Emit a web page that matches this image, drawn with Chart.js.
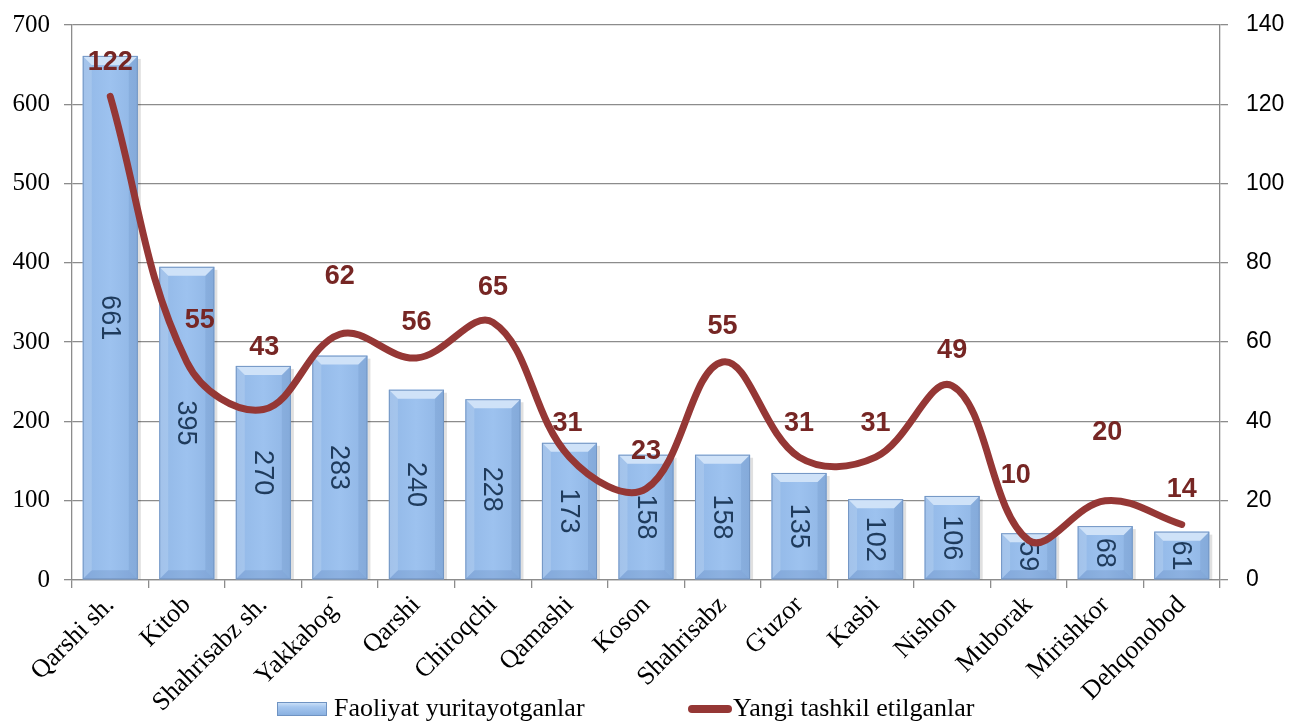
<!DOCTYPE html>
<html>
<head>
<meta charset="utf-8">
<script src="https://cdn.jsdelivr.net/npm/chart.js@4/dist/chart.umd.min.js"></script>
<style>
  html, body { margin: 0; padding: 0; background: #fff; }
  #wrap { width: 1298px; height: 723px; }
</style>
</head>
<body>
<div id="wrap"><canvas id="mychart" width="1298" height="723"></canvas></div>
<script>
// data
const districts = ["Qarshi sh.", "Kitob", "Shahrisabz sh.", "Yakkabog`", "Qarshi", "Chiroqchi", "Qamashi",
  "Koson", "Shahrisabz", "G'uzor", "Kasbi", "Nishon", "Muborak", "Mirishkor", "Dehqonobod"];
const activeCount = [661, 395, 270, 283, 240, 228, 173, 158, 158, 135, 102, 106, 59, 68, 61];
const newCount = [122, 55, 43, 62, 56, 65, 31, 23, 55, 31, 31, 49, 10, 20, 14];
const activeLabel = "Faoliyat yuritayotganlar";
const newLabel = "Yangi tashkil etilganlar";

// label nudges for the line values (px), as placed in the original
const lineLabelLift = [34, 41, 62, 58, 35, 35, 34, 37, 35, 34, 34, 35, 65, 68, 35];
const lineLabelShift = [0, 13, 1, 0, 0, 0, -2, 0, 0, 0, 0, 0, -13, 2, 0];

const serif = '"Liberation Serif", "Times New Roman", serif';
const sans = '"Liberation Sans", Arial, sans-serif';
const lineColor = "rgb(149, 55, 53)";
const lineTextColor = "rgb(118, 38, 36)";

// bevelled bars + value labels inside bars
const barLook = {
  id: "barLook",
  afterDatasetDraw(chart, args) {
    if (args.index !== 0) return;
    const ctx = chart.ctx;
    const meta = args.meta;
    meta.data.forEach((bar, i) => {
      const l = bar.x - bar.width / 2, r = bar.x + bar.width / 2;
      const t = bar.y, b = bar.base;
      const h = b - t;
      const bv = Math.min(9, h / 2);
      ctx.save();
      // shadow
      ctx.fillStyle = "rgba(0,0,0,0.12)";
      ctx.fillRect(r, t + 3, 3, h - 3);
      // face
      const g = ctx.createLinearGradient(l, 0, r, 0);
      g.addColorStop(0, "#92b8e7");
      g.addColorStop(0.5, "#9dc2ef");
      g.addColorStop(1, "#8fb5e4");
      ctx.fillStyle = g;
      ctx.fillRect(l, t, r - l, h);
      // top bevel
      ctx.beginPath();
      ctx.moveTo(l, t); ctx.lineTo(r, t); ctx.lineTo(r - bv, t + bv); ctx.lineTo(l + bv, t + bv); ctx.closePath();
      ctx.fillStyle = "#cfe2f8";
      ctx.fill();
      // left bevel
      ctx.beginPath();
      ctx.moveTo(l, t); ctx.lineTo(l + bv, t + bv); ctx.lineTo(l + bv, b - bv); ctx.lineTo(l, b); ctx.closePath();
      ctx.fillStyle = "rgba(255,255,255,0.15)";
      ctx.fill();
      // right bevel
      ctx.beginPath();
      ctx.moveTo(r, t); ctx.lineTo(r - bv, t + bv); ctx.lineTo(r - bv, b - bv); ctx.lineTo(r, b); ctx.closePath();
      ctx.fillStyle = "rgba(40,80,140,0.10)";
      ctx.fill();
      // bottom bevel
      ctx.beginPath();
      ctx.moveTo(l, b); ctx.lineTo(l + bv, b - bv); ctx.lineTo(r - bv, b - bv); ctx.lineTo(r, b); ctx.closePath();
      ctx.fillStyle = "rgba(40,80,140,0.14)";
      ctx.fill();
      // outline
      ctx.strokeStyle = "#7396c4";
      ctx.lineWidth = 1;
      ctx.strokeRect(l + 0.5, t + 0.5, r - l - 1, h - 1);
      // value
      ctx.translate(bar.x, (t + b) / 2);
      ctx.rotate(Math.PI / 2);
      ctx.fillStyle = "#1f3b5c";
      ctx.font = "27px " + sans;
      ctx.textAlign = "center";
      ctx.textBaseline = "middle";
      ctx.fillText(String(activeCount[i]), 0, 1);
      ctx.restore();
    });
  }
};

// line value labels + legend drawn under the axis labels
const extras = {
  id: "extras",
  afterDatasetsDraw(chart) {
    const ctx = chart.ctx;
    const meta = chart.getDatasetMeta(1);
    ctx.save();
    ctx.fillStyle = lineTextColor;
    ctx.font = "bold 27px " + sans;
    ctx.textAlign = "center";
    ctx.textBaseline = "middle";
    meta.data.forEach((pt, i) => {
      ctx.fillText(String(newCount[i]), pt.x + lineLabelShift[i], pt.y - lineLabelLift[i]);
    });
    ctx.restore();
  },
  afterDraw(chart) {
    const ctx = chart.ctx;
    const y = 709;
    ctx.save();
    // bar swatch
    const g = ctx.createLinearGradient(0, y - 7, 0, y + 7);
    g.addColorStop(0, "#d3e5f9");
    g.addColorStop(0.35, "#a6c7ef");
    g.addColorStop(1, "#86aedf");
    ctx.fillStyle = g;
    ctx.fillRect(277, y - 7, 50, 14);
    ctx.strokeStyle = "#6f93c2";
    ctx.lineWidth = 1;
    ctx.strokeRect(277.5, y - 6.5, 49, 13);
    ctx.fillStyle = "#000";
    ctx.font = "26px " + serif;
    ctx.textBaseline = "middle";
    ctx.textAlign = "left";
    ctx.fillText(activeLabel, 334, y);
    // line swatch
    ctx.strokeStyle = lineColor;
    ctx.lineWidth = 8;
    ctx.lineCap = "round";
    ctx.beginPath();
    ctx.moveTo(692, y);
    ctx.lineTo(728, y);
    ctx.stroke();
    ctx.fillText(newLabel, 733, y);
    ctx.restore();
  }
};

function noPad(scale) {
  scale.paddingTop = 0;
  scale.paddingBottom = 0;
  scale.paddingLeft = 0;
  scale.paddingRight = 0;
}

const ctx = document.getElementById("mychart");

new Chart(ctx, {
  type: "bar",
  data: {
    labels: districts,
    datasets: [
      {
        type: "bar",
        label: activeLabel,
        data: activeCount,
        yAxisID: "y",
        backgroundColor: "rgba(0,0,0,0)",
        borderWidth: 0,
        barPercentage: 0.72,
        categoryPercentage: 1,
        order: 1,
      },
      {
        type: "line",
        label: newLabel,
        data: newCount,
        yAxisID: "y2",
        borderColor: lineColor,
        borderWidth: 7,
        borderCapStyle: "round",
        tension: 0.38,
        pointRadius: 0,
        fill: false,
        order: 0,
      },
    ],
  },
  options: {
    responsive: false,
    animation: false,
    layout: { padding: { top: 25, left: 0, right: 0, bottom: 0 } },
    plugins: {
      legend: { display: false },
      tooltip: { enabled: false },
    },
    scales: {
      x: {
        offset: true,
        grid: { offset: true, drawOnChartArea: false, color: "#8c8c8c", tickLength: 8, lineWidth: 1.3 },
        border: { color: "#8c8c8c", width: 1.3 },
        ticks: {
          minRotation: 45,
          maxRotation: 45,
          autoSkip: false,
          color: "#000",
          padding: 2,
          font: { family: serif, size: 26 },
        },
        afterFit(scale) { scale.height = 143; noPad(scale); },
      },
      y: {
        position: "left",
        min: 0,
        max: 700,
        ticks: { stepSize: 100, color: "#000", padding: 14, font: { family: serif, size: 25 } },
        grid: { color: "#8c8c8c", tickLength: 8, lineWidth: 1.3 },
        border: { color: "#8c8c8c", width: 1.3 },
        afterFit(scale) { scale.width = 72; noPad(scale); },
      },
      y2: {
        position: "right",
        min: 0,
        max: 140,
        ticks: { stepSize: 20, color: "#000", padding: 18, font: { family: sans, size: 23 } },
        grid: { drawOnChartArea: false, color: "#8c8c8c", tickLength: 8, lineWidth: 1.3 },
        border: { color: "#8c8c8c", width: 1.3 },
        afterFit(scale) { scale.width = 78; noPad(scale); },
      },
    },
  },
  plugins: [barLook, extras],
});
</script>
</body>
</html>
